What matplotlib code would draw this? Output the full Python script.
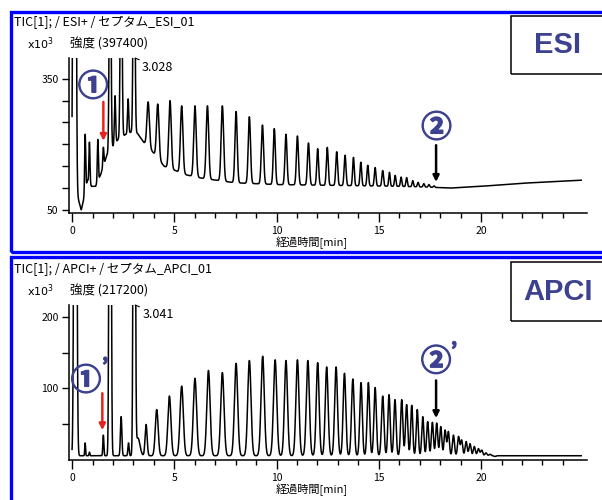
import numpy as np
import matplotlib.pyplot as plt
from matplotlib.patches import Rectangle
import matplotlib.patheffects as pe

plt.rcParams['font.family'] = ['Noto Sans CJK JP', 'DejaVu Sans']

W, H = 602, 500  # output size in pixels

# ---- ESI+ trace (time [min], intensity x10^3) ----
esi_peak_t = [0.12, 0.64, 0.85, 1.26, 1.53, 1.86, 2.10, 2.40, 2.74, 3.03,
              3.72, 4.19, 4.79, 5.36, 6.01, 6.62, 7.35, 8.02, 8.67, 9.31,
              9.89, 10.46, 11.02, 11.56, 12.01, 12.48, 12.94, 13.35, 13.76, 14.12,
              14.46, 14.82, 15.19, 15.52, 15.80, 16.09, 16.36, 16.66, 16.92, 17.20,
              17.45, 17.70]
esi_peak_top = [3000, 223, 205, 211, 193, 800, 311, 800, 304, 900,
                297, 292, 300, 288, 288, 288, 288, 275, 263, 244,
                236, 223, 219, 203, 190, 193, 183, 175, 170, 159,
                152, 147, 140, 136, 129, 125, 124, 117, 113, 110,
                108, 105]
esi_peak_w = [0.05, 0.025, 0.025, 0.025, 0.025, 0.04, 0.03, 0.04, 0.03, 0.04,
              0.06, 0.06, 0.06, 0.06, 0.06, 0.06, 0.06, 0.055, 0.055, 0.055,
              0.05, 0.05, 0.05, 0.05, 0.045, 0.045, 0.045, 0.045, 0.04, 0.04,
              0.04, 0.04, 0.04, 0.035, 0.035, 0.035, 0.035, 0.035, 0.035, 0.035,
              0.035, 0.035]
esi_base_t = [0.0, 0.1, 0.3, 0.45, 0.55, 0.75, 0.95, 1.15, 1.4, 1.7, 2.0, 2.25,
              2.6, 2.9, 3.2, 3.5, 3.9, 4.5, 5.6, 6.3, 7.5, 8.0, 10.0, 13.0,
              16.0, 17.5, 18.5, 20.0, 22.0, 24.9]
esi_base_v = [101, 101, 75, 50, 70, 119, 104, 104, 131, 175, 195, 211,
              222, 228, 225, 205, 185, 150, 130, 123, 115, 112, 108, 106,
              104, 102, 100, 104, 111, 118]

# ---- APCI+ trace ----
apci_peak_t = [0.16, 0.64, 0.85, 1.53, 1.86, 2.40, 2.76, 3.04, 3.22, 3.62,
               4.14, 4.76, 5.36, 6.01, 6.67, 7.35, 8.02, 8.67, 9.32, 9.93,
               10.46, 11.02, 11.53, 12.01, 12.45, 12.91, 13.32, 13.73, 14.13, 14.49,
               14.82, 15.19, 15.50, 15.79, 16.12, 16.36, 16.61, 16.88, 17.15, 17.39,
               17.62, 17.83, 18.03, 18.24, 18.40, 18.65, 18.90, 19.05, 19.27, 19.46,
               19.67, 19.87, 20.03, 20.24, 20.44, 20.68]
apci_peak_top = [1500, 23, 10, 34, 1200, 60, 23, 1200, 30, 49,
                 70, 89, 103, 114, 125, 122, 135, 139, 145, 140,
                 139, 140, 139, 136, 130, 130, 121, 113, 108, 108,
                 101, 89, 91, 84, 84, 77, 76, 70, 60, 53,
                 52, 51, 46, 41, 39, 34, 32, 27, 25, 22,
                 18, 15, 13, 9, 7, 4]
apci_peak_w = [0.05, 0.02, 0.02, 0.025, 0.04, 0.035, 0.03, 0.04, 0.1, 0.05,
               0.07, 0.075, 0.08, 0.08, 0.08, 0.08, 0.08, 0.08, 0.08, 0.08,
               0.075, 0.075, 0.075, 0.07, 0.07, 0.07, 0.065, 0.065, 0.06, 0.06,
               0.06, 0.06, 0.055, 0.055, 0.055, 0.055, 0.05, 0.05, 0.05, 0.05,
               0.05, 0.05, 0.05, 0.05, 0.05, 0.05, 0.05, 0.05, 0.05, 0.05,
               0.05, 0.05, 0.05, 0.05, 0.05, 0.05]
apci_base_t = [0.0, 24.9]
apci_base_v = [5, 5]

t = np.arange(0.0, 24.9, 0.004)


def trace(peak_t, peak_top, peak_w, base_t, base_v):
    base = np.interp(t, base_t, base_v)
    y = base.copy()
    for tp, top, w in zip(peak_t, peak_top, peak_w):
        h = top - np.interp(tp, base_t, base_v)
        y += h * np.exp(-0.5 * ((t - tp) / w) ** 2)
    return y


def fx(x):
    return x / W


def fy(y):
    return 1 - y / H


fig = plt.figure(figsize=(W / 100, H / 100), dpi=100)

blue = '#0000ff'
navy = '#3c4190'
fs = 7.5
thick = [pe.withStroke(linewidth=0.9, foreground=navy)]

# outer blue frames
for top, bot in [(12, 252), (257, 530)]:
    fig.add_artist(Rectangle((fx(11), fy(bot)), fx(640) - fx(11), fy(top) - fy(bot),
                             transform=fig.transFigure, fill=False,
                             edgecolor=blue, lw=2.4, clip_on=False))

panels = [
    dict(ax_top=58, ax_bot=213, ylim=(43, 397.4), yticks=[50, 100, 150, 200, 250, 300, 350],
         ylabels=['50', '', '', '', '', '', '350'],
         y=trace(esi_peak_t, esi_peak_top, esi_peak_w, esi_base_t, esi_base_v),
         head='TIC[1]; / ESI+ / セプタム_ESI_01', scale='強度 (397400)', name='ESI',
         box=(16, 74), rt='3.028', rt_x=3.03,
         c1=('①', 1.03, 331), c1p=None, red=(1.53, 297, 208),
         c2=('②', 17.82, 237), c2p=None, blk=(17.8, 198, 114)),
    dict(ax_top=305, ax_bot=460, ylim=(-1, 217.2), yticks=[50, 100, 150, 200],
         ylabels=['', '100', '', '200'],
         y=trace(apci_peak_t, apci_peak_top, apci_peak_w, apci_base_t, apci_base_v),
         head='TIC[1]; / APCI+ / セプタム_APCI_01', scale='強度 (217200)', name='APCI',
         box=(262, 321), rt='3.041', rt_x=3.04,
         c1=('①', 0.68, 110), c1p=(1.62, 130), red=(1.48, 93, 41),
         c2=('②', 17.8, 137), c2p=(18.68, 152), blk=(17.8, 111, 58)),
]

for p in panels:
    ax = fig.add_axes([fx(69), fy(p['ax_bot']), fx(587) - fx(69), fy(p['ax_top']) - fy(p['ax_bot'])])
    ax.plot(t, p['y'], color='black', lw=1.1)
    ax.set_xlim(-0.15, 25.18)
    ax.set_ylim(*p['ylim'])
    for s in ['top', 'right']:
        ax.spines[s].set_visible(False)
    for s in ['left', 'bottom']:
        ax.spines[s].set_linewidth(1.1)
    ax.set_xticks([0, 5, 10, 15, 20])
    ax.set_xticks(range(0, 25), minor=True)
    ax.set_yticks(p['yticks'])
    ax.set_yticklabels(p['ylabels'])
    ax.tick_params(axis='x', which='major', length=6.5, width=1, pad=3, labelsize=fs)
    ax.tick_params(axis='x', which='minor', length=3.8, width=1)
    ax.tick_params(axis='y', length=5, width=1, pad=2.5, labelsize=fs)

    # retention time label of the main peak
    ax.annotate(p['rt'], xy=(p['rt_x'] + 0.05, p['ylim'][1]), xytext=(5, -7),
                textcoords='offset points', ha='left', va='center', fontsize=9,
                annotation_clip=False,
                arrowprops=dict(arrowstyle='-', lw=0.8, color='black', shrinkA=0, shrinkB=0))

    # circled markers and arrows
    ax.text(p['c1'][1], p['c1'][2], p['c1'][0], fontsize=22, fontweight='bold', color=navy,
            ha='center', va='center', path_effects=thick)
    if p['c1p']:
        ax.text(p['c1p'][0], p['c1p'][1], '’', fontsize=14, fontweight='bold', color=navy,
                ha='center', va='center', path_effects=thick)
    ax.text(p['c2'][1], p['c2'][2], p['c2'][0], fontsize=22, fontweight='bold', color=navy,
            ha='center', va='center', path_effects=thick)
    if p['c2p']:
        ax.text(p['c2p'][0], p['c2p'][1], '’', fontsize=14, fontweight='bold', color=navy,
                ha='center', va='center', path_effects=thick)
    rx, ry0, ry1 = p['red']
    ax.annotate('', xy=(rx, ry1), xytext=(rx, ry0),
                arrowprops=dict(arrowstyle='-|>', lw=1.8, color='#e8231e',
                                mutation_scale=9, shrinkA=0, shrinkB=0))
    bx, by0, by1 = p['blk']
    ax.annotate('', xy=(bx, by1), xytext=(bx, by0),
                arrowprops=dict(arrowstyle='-|>', lw=1.8, color='black',
                                mutation_scale=9, shrinkA=0, shrinkB=0))

    # header texts
    top = p['ax_top']
    fig.text(fx(14), fy(top - 36), p['head'], fontsize=9, ha='left', va='center')
    fig.text(fx(27), fy(top - 14), r'x10$^3$', fontsize=8, ha='left', va='center',
             family='DejaVu Sans')
    fig.text(fx(70), fy(top - 14), p['scale'], fontsize=9, ha='left', va='center')
    fig.text(fx(312), fy(p['ax_bot'] + 30), '経過時間[min]', fontsize=8, ha='center', va='center')

    # name box at the right
    b0, b1 = p['box']
    fig.add_artist(Rectangle((fx(511), fy(b1)), fx(640) - fx(511), fy(b0) - fy(b1),
                             transform=fig.transFigure, fill=False,
                             edgecolor='black', lw=1.1, clip_on=False))
    fig.text(fx(558), fy((b0 + b1) / 2), p['name'], fontsize=21, fontweight='bold',
             color=navy, ha='center', va='center', family='Liberation Sans')

fig.savefig('out.png', dpi=100)
